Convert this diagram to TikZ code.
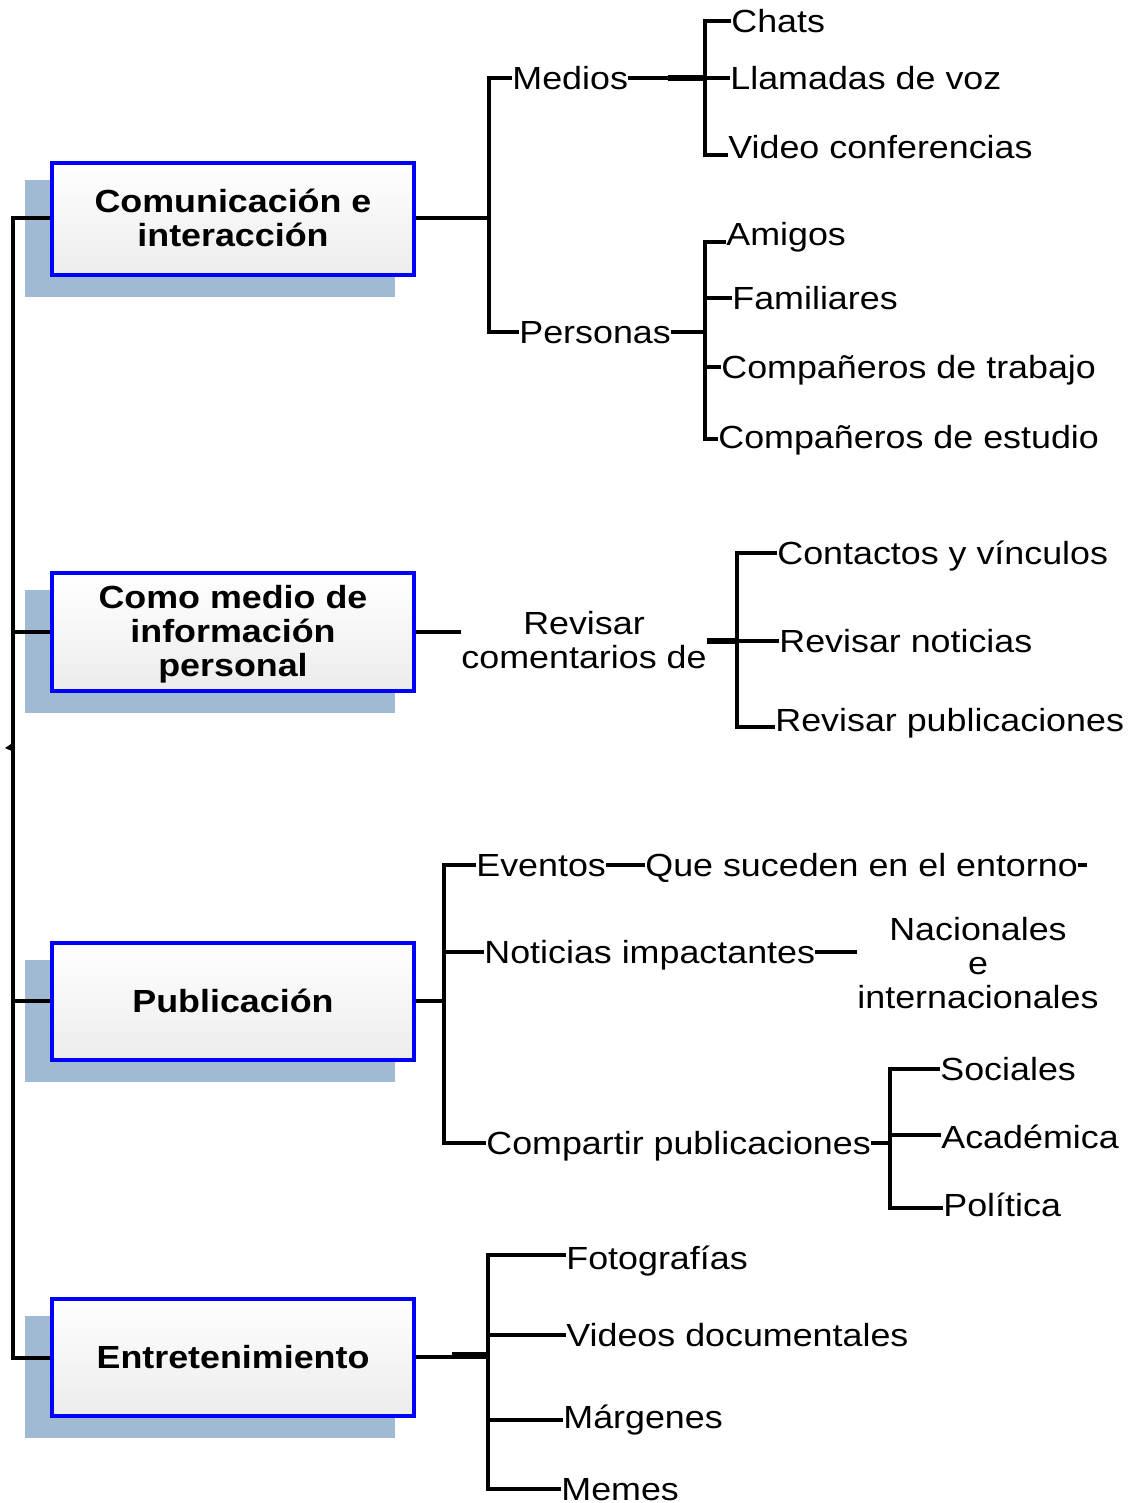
\documentclass[tikz,border=0pt]{standalone}
\usepackage{fontspec}
\setmainfont{Liberation Sans}[FakeStretch=1.12]
\usetikzlibrary{backgrounds}
\definecolor{shadowc}{HTML}{A0BAD3}
\definecolor{boxbot}{HTML}{ECECEC}
\tikzset{
  conn/.style={line width=2pt},
  lbl/.style={font=\fontsize{16}{17}\selectfont, inner sep=0pt, anchor=west, text height=11.5pt, text depth=0pt},
  mlbl/.style={font=\fontsize{16}{17}\selectfont, inner sep=0pt, anchor=base, align=center},
  boxtxt/.style={font=\fontsize{16}{17}\selectfont\bfseries, inner sep=0pt, anchor=base, align=center},
  boxnode/.style={draw=blue, line width=2pt, top color=white, bottom color=boxbot,
    minimum width=181pt, minimum height=58.5pt, inner sep=0pt}
}
\begin{document}
\begin{tikzpicture}[x=0.5pt,y=-0.5pt]
\useasboundingbox (0,0) rectangle (1132,1503);

% boxes
\node[boxnode, minimum height=56pt] (b1) at (233,219) {};
\node[boxnode, minimum height=59pt] (b2) at (233,632) {};
\node[boxnode] (b3) at (233,1001) {};
\node[boxnode] (b4) at (233,1357) {};
\begin{pgfonlayer}{background}
  \foreach \b in {b1,b2,b3,b4}{
    \fill[shadowc] ([shift={(-25,19)}]\b.north west) rectangle ([shift={(-21,20)}]\b.south east);
  }
\end{pgfonlayer}
\node[boxtxt] (t1) at (233,246.5) {Comunicación e\\interacción};
\node[boxtxt] (t2) at (233,676.5) {Como medio de\\información\\personal};
\node[boxtxt] (t3) at (233,1012.5) {Publicación};
\node[boxtxt] (t4) at (233,1368.5) {Entretenimiento};

% left spine
\coordinate (spx) at (13,0);
\draw[conn] ([yshift=0.5pt]b1.west) -- ([yshift=0.5pt]b1.west -| spx) -- ([yshift=-0.5pt]b4.west -| spx) -- ([yshift=-0.5pt]b4.west);
\draw[conn] (b2.west) -- (b2.west -| spx);
\draw[conn] (b3.west) -- (b3.west -| spx);
\fill (14,742) -- (5,748) -- (14,752) -- cycle;

% ---------- group 1 ----------
\node[lbl] (medios) at (512,78) {Medios};
\node[lbl] (personas) at (519,332) {Personas};
\coordinate (j1t) at (489,78);
\coordinate (j1b) at (489,332);
\draw[conn] ([yshift=0.5pt]b1.east) -- ([yshift=0.5pt]b1.east -| j1t);
\draw[conn] (medios.west) -- (j1t) -- (j1b) -- (personas.west);

\node[lbl] (chats) at (731,21) {Chats};
\node[lbl] (llamadas) at (730,78) {Llamadas de voz};
\node[lbl] (video) at (728,147) {Video conferencias};
\coordinate (j2t) at (705,21);
\coordinate (j2b) at (705,155);
\draw[conn] (chats.west) -- (j2t) -- (j2b) -- ([yshift=-4pt]video.west);
\draw[conn] (medios.east) -- (llamadas.west);
\draw[line width=3pt] ([xshift=20pt]medios.east) -- (j2t |- medios.east);

\node[lbl] (amigos) at (726,234) {Amigos};
\node[lbl] (familiares) at (732,298) {Familiares};
\node[lbl] (trabajo) at (721,367) {Compañeros de trabajo};
\node[lbl] (estudio) at (718,437) {Compañeros de estudio};
\coordinate (j3t) at (705,242);
\coordinate (j3b) at (705,439);
\draw[conn] ([yshift=-4pt]amigos.west) -- (j3t) -- (j3b) -- (j3b -| estudio.west);
\draw[conn] (personas.east) -- (personas.east -| j3t);
\draw[conn] (familiares.west) -- (familiares.west -| j3t);
\draw[conn] (trabajo.west) -- (trabajo.west -| j3t);

% ---------- group 2 ----------
\node[mlbl] (revisar) at (584,668.5) {Revisar\\comentarios de};
\draw[conn] (b2.east) -- (b2.east -| revisar.west);
\node[lbl] (contactos) at (777,553) {Contactos y vínculos};
\node[lbl] (rnoticias) at (779,641) {Revisar noticias};
\node[lbl] (rpub) at (775,720) {Revisar publicaciones};
\coordinate (j4t) at (737,553);
\coordinate (j4b) at (737,727);
\coordinate (j4m) at (737,641);
\draw[conn] (contactos.west) -- (j4t) -- (j4b) -- ([yshift=-3.5pt]rpub.west);
\draw[line width=3pt] (revisar.east |- j4m) -- (j4m);
\draw[conn] (j4m) -- (rnoticias.west);

% ---------- group 3 ----------
\node[lbl] (eventos) at (476,865) {Eventos};
\node[lbl] (notimp) at (484,952) {Noticias impactantes};
\node[lbl] (compartir) at (486,1143) {Compartir publicaciones};
\coordinate (j5t) at (444,865);
\coordinate (j5b) at (444,1143);
\draw[conn] (b3.east) -- (b3.east -| j5t);
\draw[conn] (eventos.west) -- (j5t) -- (j5b) -- (compartir.west);
\draw[conn] (notimp.west) -- (notimp.west -| j5t);

\node[lbl] (que) at (645,865) {Que suceden en el entorno};
\draw[conn] (eventos.east) -- (que.west);
\coordinate (qend) at (1087,865);
\draw[conn] (que.east) -- (qend);

\node[mlbl] (naci) at (978,1008.5) {Nacionales\\e\\internacionales};
\draw[conn] (notimp.east) -- (notimp.east -| naci.west);

\node[lbl] (sociales) at (940,1069) {Sociales};
\node[lbl] (academica) at (941,1137) {Académica};
\node[lbl] (politica) at (943,1205) {Política};
\coordinate (j6t) at (890,1069);
\coordinate (j6b) at (890,1208);
\draw[conn] (sociales.west) -- (j6t) -- (j6b) -- ([yshift=-1.5pt]politica.west);
\draw[conn] (compartir.east) -- (compartir.east -| j6t);
\draw[conn] ([yshift=1pt]academica.west) -- ([yshift=1pt]academica.west -| j6t);

% ---------- group 4 ----------
\node[lbl] (fotos) at (566,1258) {Fotografías};
\node[lbl] (videos) at (566,1335) {Videos documentales};
\node[lbl] (margenes) at (563,1417) {Márgenes};
\node[lbl] (memes) at (561,1489) {Memes};
\coordinate (j7t) at (488,1255);
\coordinate (j7b) at (488,1489);
\draw[conn] (b4.east) -- (b4.east -| j7t);
\draw[line width=3pt] (452,1355) -- (488,1355);
\draw[conn] ([yshift=1.5pt]fotos.west) -- (j7t) -- (j7b) -- (memes.west);
\draw[conn] (videos.west) -- (videos.west -| j7t);
\draw[conn] ([yshift=-1.5pt]margenes.west) -- ([yshift=-1.5pt]margenes.west -| j7t);
\end{tikzpicture}
\end{document}
